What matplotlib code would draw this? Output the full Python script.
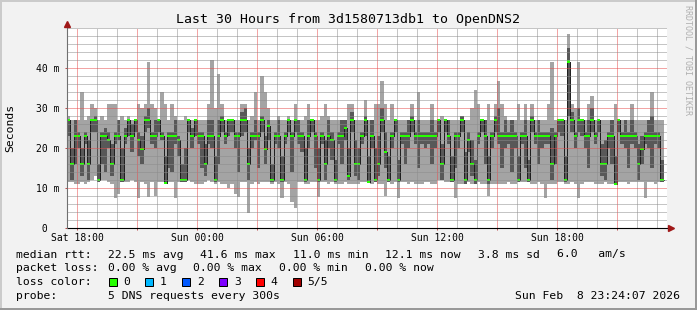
"""SmokePing style latency chart: last 30 hours, 3d1580713db1 -> OpenDNS2."""

import matplotlib

matplotlib.use("Agg")
import matplotlib.dates as mdates
import matplotlib.pyplot as plt
import pandas as pd
from matplotlib.patches import Rectangle
from matplotlib.ticker import FixedLocator, FuncFormatter, MultipleLocator

W, H = 697, 310

# one value per 10 minute step, starting Sat 2026-02-07 17:29 (values in ms)
START = "2026-02-07 17:29"
END = "2026-02-08 23:29"
STEP = "10min"

median_ms = [
    27, 16, 23, 23, 16, 23, 16, 27, 27, 12, 23, 23, 22, 16, 23, 23, 12, 23, 27, 23,
    27, 22, 19.7, 27, 27, 23, 23, 27, 23, 11.3, 23, 23, 23, 22, 12, 12,
    27, 23, 27, 23, 23, 16, 23, 23, 12, 23, 27, 23, 27, 27, 23, 23, 27, 27, 16, 23,
    23, 23, 27, 19.7, 25.5, 12, 23, 23, 12, 23, 27, 23, 27, 23, 23, 12,
    23, 27, 23, 12, 23, 16, 23, 22, 12, 23, 23, 25, 13, 27, 16, 16, 23, 27, 11.5, 23,
    12, 16, 27, 19, 12, 23, 27, 12, 23, 23, 23, 27, 23, 23, 23, 23,
    23, 23, 23, 27, 16, 27, 23, 12, 23, 23, 27, 12, 22, 16, 12, 23, 27, 23, 12, 23,
    27, 23, 23, 23, 23, 23, 23, 12, 23, 23, 12, 27, 23, 23, 23, 23,
    23, 16, 23, 27, 27, 12, 41.6, 27, 23, 27, 27, 23, 23, 27, 23, 27, 16, 16, 23, 23,
    11, 27, 23, 23, 23, 23, 23, 16, 19.7, 23, 23, 23, 23, 23, 12,
]
min_ms = [
    11.5, 11.5, 11, 11, 11.5, 11, 11.5, 12, 13, 11.5, 12, 12, 11.5, 11, 7.4, 8.5, 11.5, 11.5, 11.5, 12,
    11.5, 7.4, 11.5, 11, 7.8, 11.5, 8, 11.5, 11.5, 11, 11.5, 11.5, 7.4, 11.5, 11.5, 11.5,
    12, 11.5, 11, 11, 11, 11.5, 12, 11.5, 11, 11.5, 11, 11, 10, 11, 8.5, 7.8, 11.5, 11.5, 3.7, 11,
    11.5, 11, 11.5, 11.5, 11.5, 11, 11.5, 11, 7.4, 11.5, 11, 6.5, 4.9, 11.5, 11.5, 11,
    11, 11.5, 11.5, 7.8, 11.5, 11.5, 11, 11.5, 11, 11, 11, 11.5, 11, 11, 11, 11, 11.5, 11.5, 11.5, 11,
    11.5, 11, 11, 8, 11.5, 11, 11.5, 7.4, 11.5, 11.5, 11, 11.5, 11, 11, 11, 11.5,
    11.5, 11, 11, 12, 12, 11.5, 11.5, 11.5, 7.4, 11, 11, 11, 11.5, 11, 11, 11.5, 11, 11, 8, 11,
    11, 11, 11, 11, 11.5, 11, 11, 11.5, 11.5, 11.5, 11.5, 11, 11, 11.5, 11, 7.4,
    11, 11, 11, 11.5, 11.5, 11, 11, 11.5, 11, 7.5, 11, 11.5, 11.5, 11.5, 11, 11, 11, 11.5, 11, 11,
    11, 11.5, 11.5, 11.5, 11, 11.5, 11.5, 11.5, 11.5, 7.5, 11.5, 11.5, 11, 11.5, 11.5,
]
max_ms = [
    28, 27, 27, 27, 34, 27, 28, 31, 30, 27, 28, 27, 31, 31, 31, 27, 28, 27, 28, 27,
    27, 31, 30, 31, 41.6, 31, 30, 27, 34, 31, 27, 31, 28, 27, 27, 28,
    27, 27, 27, 27, 27, 27, 31, 42, 30, 38.6, 31, 27, 27, 27, 27, 27, 31, 31, 27, 28,
    34, 27, 38, 34, 30, 27, 27, 28, 27, 27, 28, 27, 31, 27, 27, 28,
    31, 27, 27, 27, 28, 31, 28, 27, 27, 27, 27, 27, 31, 31, 27, 27, 27, 32, 27, 27,
    31, 31, 36.7, 31, 27, 31, 27, 27, 27, 27, 27, 31, 27, 34, 27, 27,
    27, 31, 27, 27, 28, 27, 27, 27, 27, 27, 28, 27, 27, 30, 34.6, 31, 27, 27, 31, 27,
    31, 36.8, 31, 28, 27, 27, 27, 31, 27, 31, 27, 31, 27, 27, 27, 27,
    31, 41.6, 27, 27, 27, 27, 48.5, 31, 30, 41.6, 27, 27, 31, 33, 27, 27, 27, 27, 27, 27,
    31, 27, 27, 27, 27, 31, 27, 27, 27, 27, 27, 34, 27, 27, 27,
]
# 2nd and 4th of the 5 sorted pings (inner smoke band)
lo_ms = [
    23, 12, 16, 20, 13, 21, 12, 24, 24, 11.5, 16, 14, 20, 13, 21, 22, 11.5, 21, 23, 19,
    24, 18, 16, 24, 25, 21, 20, 24, 22, 11, 15, 14, 21, 18, 11.5, 11.5,
    24, 20, 23, 21, 15, 13, 21, 20, 11.5, 16, 24, 21, 23, 24, 20, 14, 23, 24, 12, 20,
    22, 15, 24, 16, 22, 11.5, 21, 20, 11.5, 21, 24, 14, 24, 21, 19, 11.5,
    20, 24, 15, 11.5, 21, 12, 20, 17, 11.5, 21, 16, 22, 12, 24, 13, 12, 21, 23, 11.5, 20,
    11.5, 13, 24, 15, 11.5, 20, 24, 11.5, 21, 16, 20, 24, 21, 15, 21, 20,
    21, 16, 20, 24, 12, 24, 21, 11.5, 15, 20, 24, 11, 19, 13, 11, 21, 24, 16, 11, 20,
    24, 21, 15, 20, 21, 14, 20, 11.5, 21, 15, 11.5, 24, 21, 16, 20, 21,
    21, 12, 16, 24, 23, 11.5, 28, 24, 20, 24, 23, 20, 15, 24, 21, 24, 13, 12, 20, 16,
    11, 24, 21, 20, 15, 21, 20, 12, 16, 21, 20, 15, 21, 20, 11.5,
]
hi_ms = [
    27, 20, 27, 24, 20, 24, 22, 27, 28, 16, 24, 25, 24, 21, 24, 27, 20, 25, 27, 26,
    27, 24, 23, 28, 30, 24, 27, 27, 24, 18, 24, 24, 27, 23, 16, 20,
    27, 25, 27, 24, 24, 21, 27, 27, 18, 27, 28, 24, 27, 27, 24, 24, 29, 30, 20, 24,
    27, 24, 28, 23, 27, 16, 24, 27, 18, 24, 27, 24, 27, 27, 24, 20,
    27, 27, 24, 20, 24, 22, 27, 24, 17, 24, 27, 27, 20, 29, 22, 20, 24, 28, 18, 27,
    20, 23, 30, 24, 18, 24, 27, 17, 24, 24, 27, 28, 24, 27, 24, 24,
    24, 27, 24, 27, 21, 27, 27, 18, 24, 24, 28, 19, 24, 22, 17, 24, 27, 27, 18, 24,
    28, 30, 24, 27, 24, 27, 24, 18, 24, 27, 17, 28, 24, 27, 24, 24,
    24, 25, 24, 27, 27, 18, 45, 29, 24, 30, 27, 24, 27, 30, 24, 27, 21, 22, 24, 27,
    18, 27, 24, 27, 24, 27, 24, 21, 23, 24, 27, 28, 24, 24, 17,
]

y_ticks = [0, 10, 20, 30, 40]

TITLE = "Last 30 Hours from 3d1580713db1 to OpenDNS2"
rtt_items = ["22.5 ms avg", "41.6 ms max", "11.0 ms min", "12.1 ms now", "3.8 ms sd", "6.0   am/s"]
loss_items = ["0.00 % avg", "0.00 % max", "0.00 % min", "0.00 % now"]
loss_labels = ["0", "1", "2", "3", "4", "5/5"]
loss_colors = ["#26ff00", "#00b8ff", "#0059ff", "#7e00ff", "#ff0000", "#a00000"]
PROBE = "5 DNS requests every 300s"
STAMP = "Sun Feb  8 23:24:07 2026"

MONO = "DejaVu Sans Mono"
plt.rcParams["font.family"] = MONO


def px(x, y):
    """pixel position (from top left) -> figure fraction"""
    return x / W, 1 - y / H


def ext(a):
    # repeat the last value so step='post' draws the final interval
    return list(a) + [a[-1]]


def time_label(v, _pos):
    d = mdates.num2date(v)
    return d.strftime("%a %H:%M") if d.hour % 6 == 0 else ""


fig = plt.figure(figsize=(W / 100, H / 100), dpi=100, facecolor="#f2f2f2")
ax = fig.add_axes([67 / W, 82 / H, 600 / W, 200 / H], facecolor="white")

t = pd.date_range(START, periods=len(median_ms) + 1, freq=STEP)

# outer smoke (min..max) and inner smoke (2nd..4th ping)
ax.fill_between(t, ext(min_ms), ext(max_ms), step="post", color="#a4a4a4", lw=0, antialiased=False, zorder=2)
ax.fill_between(t, ext(lo_ms), ext(hi_ms), step="post", color="#585858", lw=0, antialiased=False, zorder=3)
# median: dark step line plus short green bars (loss colour 0)
ax.step(t, ext(median_ms), where="post", color="#202020", lw=0.7, antialiased=False, zorder=4)
ax.fill_between(t, [m - 0.3 for m in ext(median_ms)], [m + 0.3 for m in ext(median_ms)],
                step="post", color=loss_colors[0], lw=0, antialiased=False, zorder=5)

ax.set_xlim(pd.Timestamp(START), pd.Timestamp(END))
ax.set_ylim(0, 50)

ax.xaxis.set_major_locator(mdates.HourLocator(byhour=range(0, 24, 3)))
ax.xaxis.set_minor_locator(mdates.HourLocator())
ax.xaxis.set_major_formatter(FuncFormatter(time_label))
ax.yaxis.set_major_locator(FixedLocator(y_ticks))
ax.yaxis.set_minor_locator(MultipleLocator(2))
ax.yaxis.set_major_formatter(FuncFormatter(lambda v, _p: " 0" if v == 0 else f"{v:.0f} m"))

# rrdtool paints the dotted grid over the graph, semi transparent
dots = (0, (1, 1))
ax.xaxis.set_zorder(5.5)
ax.yaxis.set_zorder(5.5)
ax.grid(which="minor", color=(0.55, 0.55, 0.55, 0.4), lw=0.72, linestyle=dots)
ax.grid(which="major", color=(0.9, 0.3, 0.3, 0.42), lw=0.72, linestyle=dots)

ax.tick_params(which="major", length=1.5, width=0.72, color="#c05050", labelsize=7)
ax.tick_params(which="minor", length=0)
ax.tick_params(axis="x", which="major", pad=2.3)
ax.tick_params(axis="y", which="major", pad=21)
for lab in ax.get_yticklabels():
    lab.set_horizontalalignment("left")

for s in ax.spines.values():
    s.set_visible(False)
# axes with arrow heads
ax.plot([0, 1.006], [0, 0], transform=ax.transAxes, color="black", lw=0.8, clip_on=False, zorder=6)
ax.plot([0, 0], [0, 1.02], transform=ax.transAxes, color="#707070", lw=0.8, clip_on=False, zorder=6)
ax.plot([1.0065], [0], transform=ax.transAxes, marker=">", ms=4.5, color="#a01818", clip_on=False, zorder=7)
ax.plot([0], [1.022], transform=ax.transAxes, marker="^", ms=4.5, color="#a01818", clip_on=False, zorder=7)

# titles
fig.text(*px(348.5, 19), TITLE, ha="center", va="center", fontsize=9.5)
fig.text(*px(10, 128), "Seconds", rotation=90, ha="center", va="center", fontsize=8.2)
fig.text(*px(688, 60), "RRDTOOL / TOBI OETIKER", rotation=270, ha="center", va="center",
         fontsize=6, color="#b0b0b0")

# legend block
LEG = dict(ha="left", va="center", fontsize=8.2)
row_y = [254.5, 268, 282, 296]
fig.text(*px(16.4, row_y[0]), "median rtt:", **LEG)
for x, s in zip([107.6, 200.2, 292.8, 385.4, 478, 557], rtt_items):
    fig.text(*px(x, row_y[0]), s, **LEG)
fig.text(*px(16.4, row_y[1]), "packet loss:", **LEG)
for x, s in zip([107.6, 193.3, 279, 365.3], loss_items):
    fig.text(*px(x, row_y[1]), s, **LEG)
fig.text(*px(16.4, row_y[2]), "loss color:", **LEG)
for i, (lab, col) in enumerate(zip(loss_labels, loss_colors)):
    bx = 108.5 + 36.9 * i
    fig.add_artist(Rectangle(px(bx, row_y[2] + 4), 8 / W, 8 / H, transform=fig.transFigure,
                             facecolor=col, edgecolor="black", lw=0.72))
    fig.text(*px(bx + 14.7, row_y[2]), lab, **LEG)
fig.text(*px(16.4, row_y[3]), "probe:", **LEG)
fig.text(*px(107.6, row_y[3]), PROBE, **LEG)
fig.text(*px(680, row_y[3]), STAMP, ha="right", va="center", fontsize=8.2)

# 3d frame
for xy, w, h, c in [((0, 1 - 2 / H), 1, 2 / H, "#cbcbcb"), ((0, 0), 2 / W, 1, "#cbcbcb"),
                    ((0, 0), 1, 2 / H, "#999999"), ((1 - 2 / W, 0), 2 / W, 1, "#999999")]:
    fig.add_artist(Rectangle(xy, w, h, transform=fig.transFigure, color=c, lw=0))

fig.savefig("out.png", dpi=100, facecolor=fig.get_facecolor())
